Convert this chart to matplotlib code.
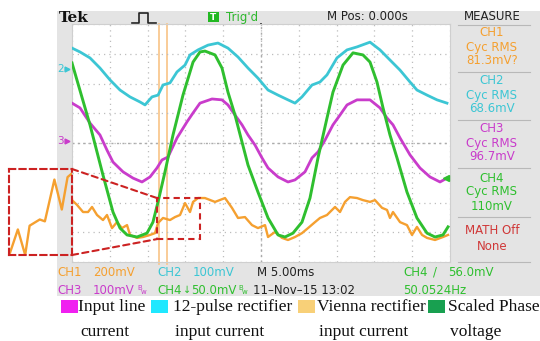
import matplotlib
matplotlib.use('Agg')
import matplotlib.pyplot as plt
from matplotlib.patches import Rectangle, ConnectionPatch
import numpy as np

# ---------------- data (time in ms, amplitude in screen divisions) ----------------
time_per_div_ms = 5

phase_t = [0, 2.38, 4.10, 5.42, 6.35, 7.28, 8.60, 9.92, 10.71, 11.38, 12.30, 13.36, 14.68, 16.01,
           16.93, 17.59, 18.92, 19.84, 20.63, 21.56, 22.49, 23.28, 24.60, 25.93, 27.25, 28.17,
           29.23, 30.42, 31.48, 32.54, 33.73, 34.52, 35.85, 37.17, 38.49, 39.42, 40.34, 41.14,
           42.06, 42.99, 44.31, 45.63, 46.96, 48.02, 49.07, 49.74]
phase_v = [2.69, 0.61, -1.08, -2.32, -2.86, -3.09, -3.16, -3.03, -2.66, -1.98, -0.97, 0.27, 1.61, 2.72,
           3.06, 3.09, 2.96, 2.52, 1.71, 0.94, 0.03, -0.74, -1.65, -2.52, -3.09, -3.16,
           -3.03, -2.66, -1.85, -0.50, 0.84, 1.71, 2.62, 3.03, 2.96, 2.72, 2.05, 1.18,
           0.27, -0.50, -1.65, -2.52, -3.03, -3.16, -3.09, -2.82]

line_t = [0, 1.06, 2.38, 3.70, 4.63, 5.42, 6.75, 8.07, 9.26, 10.32, 11.24, 11.90, 12.70, 13.89,
          15.21, 16.01, 16.93, 18.52, 19.84, 20.63, 21.56, 22.49, 23.28, 24.21, 25.13, 25.93,
          27.25, 28.57, 29.50, 30.82, 31.75, 32.54, 33.47, 34.52, 35.45, 36.38, 37.70, 39.42,
          40.74, 41.67, 42.46, 43.39, 44.71, 46.03, 47.35, 48.68, 49.60]
line_v = [1.34, 1.18, 0.67, 0.27, -0.24, -0.64, -0.97, -1.18, -1.31, -1.14, -0.84, -0.57, -0.47, 0.17,
          0.71, 1.01, 1.34, 1.48, 1.45, 1.28, 0.94, 0.61, 0.27, -0.07, -0.50, -0.84,
          -1.14, -1.31, -1.24, -0.97, -0.50, -0.30, 0.10, 0.61, 0.94, 1.28, 1.45, 1.45,
          1.18, 0.84, 0.61, 0.17, -0.40, -0.84, -1.14, -1.31, -1.18]

pulse12_t = [0, 1.06, 2.38, 3.70, 5.03, 6.35, 7.67, 8.99, 9.66, 10.58, 11.38, 12.04, 12.96, 13.89,
             14.95, 15.61, 16.67, 17.99, 19.31, 20.63, 21.96, 23.28, 24.60, 25.93, 27.25, 28.57,
             29.50, 30.42, 31.75, 32.80, 33.73, 35.05, 36.38, 37.70, 39.42, 40.74, 42.06, 43.39,
             44.71, 45.63, 46.96, 48.28, 49.60]
pulse12_v = [3.19, 3.06, 2.86, 2.52, 2.12, 1.78, 1.55, 1.38, 1.28, 1.55, 1.61, 1.95, 2.02, 2.39,
             2.62, 2.96, 3.13, 3.29, 3.36, 3.19, 2.89, 2.52, 2.18, 1.78, 1.61, 1.45,
             1.34, 1.55, 1.95, 2.05, 2.29, 2.86, 3.13, 3.23, 3.39, 3.13, 2.79, 2.45,
             2.05, 1.78, 1.61, 1.45, 1.34]

vienna_t = [0, 0.66, 1.46, 2.12, 2.65, 3.31, 4.10, 4.63, 5.29, 5.95, 6.61, 7.28, 7.67, 8.60, 9.39,
            10.32, 10.98, 11.38, 12.04, 12.96, 13.62, 14.29, 14.95, 15.61, 16.01, 16.67, 17.59,
            18.92, 20.24, 21.16, 21.96, 22.88, 23.81, 24.60, 25.53, 25.93, 26.85, 27.78, 28.57,
            29.50, 30.42, 31.22, 32.14, 32.80, 33.73, 34.79, 35.45, 36.11, 36.77, 37.70, 38.49,
            39.42, 40.08, 41.01, 41.67, 42.06, 42.46, 43.39, 44.31, 44.97, 45.63, 46.30, 46.96,
            48.02, 49.07, 49.74]
vienna_v = [-1.92, -2.08, -2.32, -2.32, -2.15, -2.42, -2.59, -2.42, -2.86, -2.66, -2.86, -2.76, -3.09, -3.19, -3.16,
            -3.09, -3.03, -2.69, -2.52, -2.59, -2.49, -2.42, -2.02, -2.32, -1.98, -1.85, -1.85,
            -1.98, -1.85, -2.18, -2.52, -2.49, -2.76, -2.86, -2.76, -3.16, -2.99, -3.19, -3.26,
            -3.16, -3.03, -2.86, -2.66, -2.52, -2.42, -2.15, -2.32, -1.98, -1.82, -1.85, -1.92,
            -1.98, -1.92, -2.18, -2.25, -2.52, -2.32, -2.66, -2.76, -3.09, -2.82, -3.09, -3.19,
            -3.26, -3.16, -3.09]

# magnified detail of the Vienna rectifier current (inset)
vienna_zoom_t = [11.34, 12.04, 12.70, 13.10, 14.02, 14.48, 15.34, 16.01, 16.53, 16.93]
vienna_zoom_v = [-3.19, -2.82, -3.23, -2.76, -2.66, -2.69, -2.02, -2.50, -1.98, -1.92]

cursor_t = [11.51, 12.57]

measure_labels = ["CH1", "CH2", "CH3", "CH4"]
measure_values = ["81.3mV?", "68.6mV", "96.7mV", "110mV"]

legend_labels = ["Input line\ncurrent", "12-pulse rectifier\ninput current",
                 "Vienna rectifier\ninput current", "Scaled Phase\nvoltage"]

# ---------------- styles ----------------
C_CH1 = '#f5a030'
C_CH2 = '#3cc6d4'
C_CH3 = '#c93ccb'
C_CH4 = '#2fbf2f'
C_RED = '#cc2222'
GRAY = '#e4e4e4'
SANS = 'DejaVu Sans'
SERIF = 'Liberation Serif'

W, H = 540, 341
fig = plt.figure(figsize=(W / 100, H / 100), dpi=100)

# canvas axes in pixel coordinates
bg = fig.add_axes([0, 0, 1, 1], zorder=0)
bg.set_xlim(0, W)
bg.set_ylim(H, 0)
bg.axis('off')
bg.add_patch(Rectangle((57, 11), W - 57, 285, fc=GRAY, ec='none'))

# main graticule
gx0, gx1, gy0, gy1 = 72, 450, 24, 262
ax = fig.add_axes([gx0 / W, 1 - gy1 / H, (gx1 - gx0) / W, (gy1 - gy0) / H], zorder=2)
ax.set_facecolor('white')
ax.set_xlim(0, 10 * time_per_div_ms)
ax.set_ylim(-4, 4)
ax.set_xticks(np.arange(0, 51, 5))
ax.set_yticks(np.arange(-4, 5, 1))
ax.tick_params(length=0, labelbottom=False, labelleft=False)
ax.grid(True, color='#bdbdbd', ls=(0, (1, 3.2)), lw=0.9)
ax.axhline(0, color='#ababab', ls=(0, (1.5, 2.5)), lw=1.0)
ax.axvline(25, color='#ababab', ls=(0, (1.5, 2.5)), lw=1.0)
for s in ax.spines.values():
    s.set_color('#cfcfcf')
    s.set_linewidth(0.8)

for ct in cursor_t:
    ax.axvline(ct, ymin=-0.01, ymax=1, color='#f9c890', lw=1.3, clip_on=False, zorder=1)

ax.plot(vienna_t, vienna_v, color=C_CH1, lw=1.7, zorder=3)
ax.plot(pulse12_t, pulse12_v, color=C_CH2, lw=2.0, zorder=4)
ax.plot(line_t, line_v, color=C_CH3, lw=2.0, zorder=5)
ax.plot(phase_t, phase_v, color=C_CH4, lw=2.1, zorder=6)

# zoom window
zt0, zt1 = 11.24, 16.93
zv0, zv1 = -3.23, -1.85
ax.add_patch(Rectangle((zt0, zv0), zt1 - zt0, zv1 - zv0, fill=False, ec=C_RED, ls=(0, (3, 2)),
                       lw=1.5, zorder=8, clip_on=False))

axins = fig.add_axes([9 / W, 1 - 255 / H, 63 / W, 86 / H], zorder=3)
axins.set_facecolor('none')
axins.plot(vienna_zoom_t, vienna_zoom_v, color=C_CH1, lw=1.7)
axins.set_xlim(zt0, zt1)
axins.set_ylim(zv0, zv1)
axins.set_xticks([])
axins.set_yticks([])
for s in axins.spines.values():
    s.set_color(C_RED)
    s.set_linestyle((0, (3, 2)))
    s.set_linewidth(1.5)

for ya, yb in [(1, zv1), (0, zv0)]:
    con = ConnectionPatch(xyA=(1, ya), coordsA=axins.transAxes, xyB=(zt0, yb), coordsB=ax.transData,
                          color=C_RED, ls=(0, (3, 2)), lw=1.5, zorder=9)
    fig.add_artist(con)

# ---------------- top bar ----------------
bg.text(59, 18, "Tek", fontfamily='DejaVu Serif', fontweight='bold', fontsize=11, va='center', ha='left', color='#111')
bg.plot([132, 139, 139, 148, 148, 156], [23, 23, 13, 13, 23, 23], color='#222', lw=1.2)
bg.add_patch(Rectangle((208, 12), 11, 10, fc='#22b822', ec='none'))
bg.text(213.5, 17.2, "T", color='white', fontsize=6.5, fontweight='bold', fontfamily=SANS, ha='center', va='center')
bg.text(226, 17, "Trig'd", color='#2db82d', fontsize=8.5, fontfamily=SANS, ha='left', va='center')
bg.text(327, 17, "M Pos: 0.000s", color='#222', fontsize=8.5, fontfamily=SANS, ha='left', va='center')
bg.text(492, 16, "MEASURE", color='#222', fontsize=8.5, fontfamily=SANS, ha='center', va='center')

# trigger position marker
bg.plot([261, 261], [24, 31], color='#111', lw=1.2, zorder=5)
bg.plot([257, 265], [27, 27], color='#111', lw=1.2, zorder=5)
bg.plot([261], [31], marker='v', color='#111', ms=4, zorder=5)

# channel markers
bg.text(57, 68.5, "2", color=C_CH2, fontsize=7.5, fontfamily=SANS, ha='left', va='center')
bg.plot([67], [68.5], marker='>', color=C_CH2, ms=3.5)
bg.text(57, 141, "3", color=C_CH3, fontsize=7.5, fontfamily=SANS, ha='left', va='center')
bg.plot([67], [141], marker='>', color=C_CH3, ms=3.5)
ax.plot([49.5], [-1.19], marker='<', color=C_CH4, ms=4, clip_on=False, zorder=7)

# ---------------- right measure panel ----------------
for ys in [25, 72, 120, 168, 217, 262]:
    bg.plot([458, 530], [ys, ys], color='#b8b8b8', lw=0.8)
group_top = [33, 81, 129, 178]
colors = [C_CH1, C_CH2, C_CH3, C_CH4]
for lab, val, y0, c in zip(measure_labels, measure_values, group_top, colors):
    bg.text(492, y0, lab, color=c, fontsize=8.5, fontfamily=SANS, ha='center', va='center')
    bg.text(492, y0 + 14, "Cyc RMS", color=c, fontsize=8.5, fontfamily=SANS, ha='center', va='center')
    bg.text(492, y0 + 28, val, color=c, fontsize=8.5, fontfamily=SANS, ha='center', va='center')
bg.text(492, 230, "MATH Off", color='#d03838', fontsize=8.5, fontfamily=SANS, ha='center', va='center')
bg.text(492, 247, "None", color='#d03838', fontsize=8.5, fontfamily=SANS, ha='center', va='center')

# ---------------- bottom status bar ----------------
fs = 8.5
r1, r2 = 272, 290


def bw(x, y, c):
    bg.text(x, y - 2.5, "B", color=c, fontsize=5, fontfamily=SANS, va='center')
    bg.text(x + 4, y + 2, "w", color=c, fontsize=5, fontfamily=SANS, va='center')


bg.text(57, r1, "CH1", color=C_CH1, fontsize=fs, fontfamily=SANS, va='center')
bg.text(93, r1, "200mV", color=C_CH1, fontsize=fs, fontfamily=SANS, va='center')
bg.text(157, r1, "CH2", color=C_CH2, fontsize=fs, fontfamily=SANS, va='center')
bg.text(193, r1, "100mV", color=C_CH2, fontsize=fs, fontfamily=SANS, va='center')
bg.text(257, r1, "M 5.00ms", color='#222', fontsize=fs, fontfamily=SANS, va='center')
bg.text(403, r1, "CH4", color=C_CH4, fontsize=fs, fontfamily=SANS, va='center')
bg.text(433, r1, "/", color=C_CH4, fontsize=fs, fontfamily=SANS, va='center')
bg.text(448, r1, "56.0mV", color=C_CH4, fontsize=fs, fontfamily=SANS, va='center')
bg.text(57, r2, "CH3", color=C_CH3, fontsize=fs, fontfamily=SANS, va='center')
bg.text(93, r2, "100mV", color=C_CH3, fontsize=fs, fontfamily=SANS, va='center')
bw(137, r2, C_CH3)
bg.text(157, r2, "CH4", color=C_CH4, fontsize=fs, fontfamily=SANS, va='center')
bg.text(183, r2, "\u2193", color=C_CH4, fontsize=7, fontfamily=SANS, va='center')
bg.text(191, r2, "50.0mV", color=C_CH4, fontsize=fs, fontfamily=SANS, va='center')
bw(238, r2, C_CH4)
bg.text(253, r2, "11\u2013Nov\u201315 13:02", color='#222', fontsize=fs, fontfamily=SANS, va='center')
bg.text(403, r2, "50.0524Hz", color=C_CH4, fontsize=fs, fontfamily=SANS, va='center')

# ---------------- legend ----------------
leg_colors = ['#f020f0', '#20e8ff', '#f8d078', '#18a050']
sq_x = [61, 151, 298, 428]
txt_x = [78, 173, 317, 448]
for c, sx, tx, lab in zip(leg_colors, sq_x, txt_x, legend_labels):
    bg.add_patch(Rectangle((sx, 300), 17, 13, fc=c, ec='none'))
    l1, l2 = lab.split("\n")
    bg.text(tx, 307, l1, fontfamily=SERIF, fontsize=12.5, va='center', ha='left', color='#111')
    bg.text(tx + 2, 332, l2, fontfamily=SERIF, fontsize=12.5, va='center', ha='left', color='#111')

fig.savefig('out.png', dpi=100)
